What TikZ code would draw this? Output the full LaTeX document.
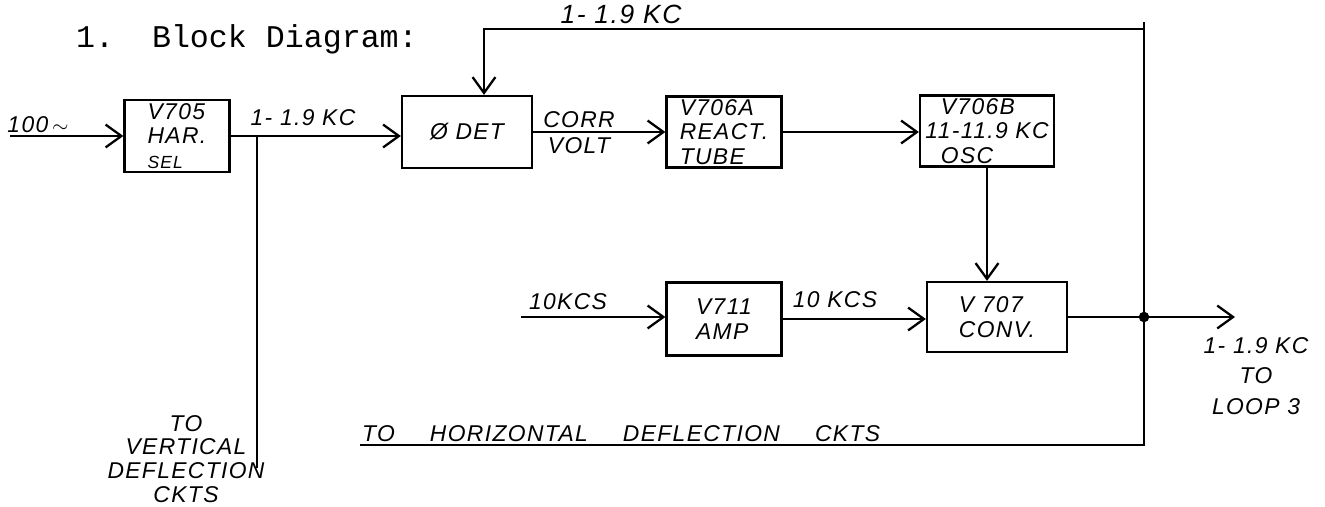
\documentclass[tikz,border=0pt]{standalone}
\usepackage{fontspec}
\usepackage{tikz}
\usetikzlibrary{arrows.meta}
\newfontfamily\handfont[LetterSpace=6]{Liberation Sans}
\newfontfamily\typefont{Liberation Mono}

\begin{document}
\begin{tikzpicture}[x=0.02cm, y=-0.02cm, line width=1.3pt,
  font=\handfont\itshape\fontsize{13}{14}\selectfont,
  >={Straight Barb[length=9pt,width=13pt]},
  blk/.style={draw, inner sep=0pt, align=left},
  lbl/.style={inner sep=0pt, align=center},
  dot/.style={circle, fill, inner sep=0pt, minimum size=6pt}]
  \useasboundingbox (0,0) rectangle (1325,507);
  \node[anchor=base west, inner sep=0pt] (title) at (75,47)
    {\typefont\upshape\fontsize{18}{20}\selectfont 1.\ \ Block Diagram:};

  \node[blk, minimum width=2.1cm, minimum height=1.44cm] (har) at (177,136)
    {V705\\HAR.\\{\fontsize{10}{11}\selectfont SEL}};
  \node[blk, minimum width=2.6cm, minimum height=1.44cm] (det) at (467,132) {Ø DET};
  \node[blk, minimum width=2.3cm, minimum height=1.42cm] (react) at (724,132)
    {V706A\\REACT.\\TUBE};
  \node[blk, minimum width=2.68cm, minimum height=1.42cm] (osc) at (987,131)
    {\ \ V706B\\11-11.9 KC\\\ \ OSC};
  \node[blk, minimum width=2.3cm, minimum height=1.46cm] (amp) at (724,319)
    {V711\\AMP};
  \node[blk, minimum width=2.8cm, minimum height=1.4cm] (conv) at (997,317)
    {V 707\\CONV.};
  \node[dot] (jn) at (1144,317) {};

  \coordinate (in100) at (10,136);
  \coordinate (vsplit) at (257,136);
  \coordinate (vend) at (257,468);
  \coordinate (in10) at (521,317);
  \coordinate (out) at (1235,317);
  \coordinate (ttop) at (1144,22);
  \coordinate (tcorner) at (1144,29);
  \coordinate (fbk) at (484,29);
  \coordinate (bcorner) at (1144,445);
  \coordinate (hend) at (360,445);

  \draw[->] (in100) -- (har.west);
  \draw[->] (har.east) -- (har.east -| det.west);
  \draw (vsplit) -- (vend);
  \draw[->] (det.east) -- (react.west);
  \draw[->] (react.east) -- (react.east -| osc.west);
  \draw[->] (osc.south) -- (osc.south |- conv.north);
  \draw[->] (in10) -- (in10 -| amp.west);
  \draw[->] (amp.east) -- (amp.east -| conv.west);
  \draw[->] (conv.east) -- (out);
  \draw (ttop) -- (bcorner) -- (hend);
  \draw[->] (tcorner) -- (fbk) -- (fbk |- det.north);

  \node[lbl] (l100) at (38,125) {100\,$\sim$};
  \node[lbl] (lkca) at (303,118) {1- 1.9 KC};
  \node[lbl, font=\handfont\itshape\fontsize{15}{17}\selectfont] (lkcb) at (621,14) {1- 1.9 KC};
  \node[lbl] (lcorr) at (579,120) {CORR};
  \node[lbl] (lvolt) at (579,146) {VOLT};
  \node[lbl] (lkcs) at (568,302) {10KCS};
  \node[lbl] (lkcsb) at (835,300) {10 KCS};
  \node[lbl, font=\handfont\itshape\fontsize{13}{17.5}\selectfont] (lloop) at (1256,376)
    {1- 1.9 KC\\TO\\LOOP 3};
  \node[lbl, font=\handfont\itshape\fontsize{13}{13.6}\selectfont] (lvert) at (186,459)
    {TO\\VERTICAL\\DEFLECTION\\CKTS};
  \node[anchor=base west, inner sep=0pt] (lhoriz) at (361,441)
    {TO\hspace{20pt}HORIZONTAL\hspace{20pt}DEFLECTION\hspace{20pt}CKTS};
\end{tikzpicture}
\end{document}
